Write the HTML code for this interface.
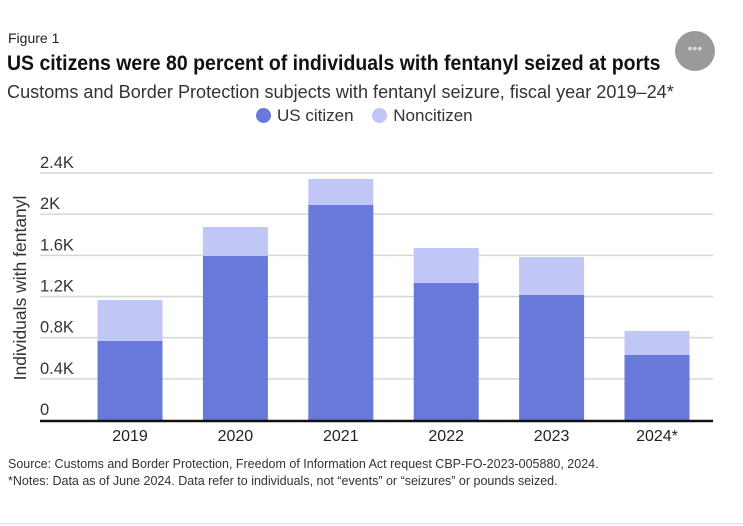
<!DOCTYPE html>
<html><head><meta charset="utf-8"><style>
body{margin:0;background:#fff;width:743px;height:526px;overflow:hidden;font-family:"Liberation Sans",sans-serif;position:relative}
.t{position:absolute;white-space:nowrap;color:#222}
</style></head><body>
<div class="t" style="left:8px;top:30px;font-size:14px">Figure 1</div>
<div class="t" style="left:7px;top:52px;font-weight:bold;font-size:21px;color:#111;transform:scaleX(0.927);transform-origin:0 0">US citizens were 80 percent of individuals with fentanyl seized at ports</div>
<div class="t" style="left:7px;top:81px;font-size:18.5px;color:#333;transform:scaleX(0.978);transform-origin:0 0">Customs and Border Protection subjects with fentanyl seizure, fiscal year 2019–24*</div>
<div style="position:absolute;left:675px;top:31px;width:40px;height:40px;border-radius:50%;background:#9a9a9a;color:#ddd;text-align:center;line-height:34px;font-size:14px">•••</div>
<div style="position:absolute;left:256px;top:106px;font-size:17px;color:#333">
<span><span style="display:inline-block;width:15px;height:15px;border-radius:50%;background:#6979d9;vertical-align:-2px;margin-right:6px"></span>US citizen</span>
<span style="margin-left:14px"><span style="display:inline-block;width:15px;height:15px;border-radius:50%;background:#c0c6f5;vertical-align:-2px;margin-right:6px"></span>Noncitizen</span>
</div>
<svg id="chart" width="743" height="526" style="position:absolute;left:0;top:0"></svg>
<div class="t" style="left:8px;top:457px;font-size:12.5px;color:#333">Source: Customs and Border Protection, Freedom of Information Act request CBP-FO-2023-005880, 2024.</div>
<div class="t" style="left:8px;top:474px;font-size:12.5px;color:#333">*Notes: Data as of June 2024. Data refer to individuals, not “events” or “seizures” or pounds seized.</div>
<div style="position:absolute;left:0;top:523px;width:743px;height:1px;background:#ddd"></div>
<script>
const categories=["2019","2020","2021","2022","2023","2024*"];
const usCitizen=[768,1594,2089,1331,1215,632];
const nonCitizen=[398,281,253,340,369,233];
const yTicks=[0,400,800,1200,1600,2000,2400];
const yTickLabels=["0","0.4K","0.8K","1.2K","1.6K","2K","2.4K"];
const svg=document.getElementById('chart');
const NS='http://www.w3.org/2000/svg';
const y0=420,yTop=173,yMax=2400,xL=40,xR=713;
const y=v=>y0-(v/yMax)*(y0-yTop);
const x=i=>130+i*105.4;
const bw=65;
function mk(t,a){const e=document.createElementNS(NS,t);for(const k in a)e.setAttribute(k,a[k]);svg.appendChild(e);return e;}
yTicks.forEach((v,i)=>{
 if(v>0){const l=mk('line',{x1:xL,x2:xR,y1:y(v),y2:y(v),stroke:'#d6d6d6','stroke-width':1.5});
 
 }
 const t=mk('text',{x:xL,y:y(v)-5,'font-size':16.5,fill:'#333','font-family':'Liberation Sans, sans-serif'});
 t.textContent=yTickLabels[i];
 
 
});
categories.forEach((c,i)=>{
 const r1=mk('rect',{x:x(i)-bw/2,y:y(usCitizen[i]),width:bw,height:y0-y(usCitizen[i]),fill:'#6979d9'});
 
 
 const tot=usCitizen[i]+nonCitizen[i];
 const r2=mk('rect',{x:x(i)-bw/2,y:y(tot),width:bw,height:y(usCitizen[i])-y(tot),fill:'#c0c6f5'});
 
 
 const t=mk('text',{x:x(i),y:441,'font-size':16,fill:'#222','text-anchor':'middle','font-family':'Liberation Sans, sans-serif'});
 t.textContent=c;
 
 
});
const b=mk('line',{x1:xL,x2:xR,y1:y0+1,y2:y0+1,stroke:'#111','stroke-width':2.5});


const yt=mk('text',{x:0,y:0,'font-size':17.5,fill:'#333','text-anchor':'middle','font-family':'Liberation Sans, sans-serif',transform:'translate(26,288) rotate(-90)'});
yt.textContent='Individuals with fentanyl';


</script>
</body></html>
